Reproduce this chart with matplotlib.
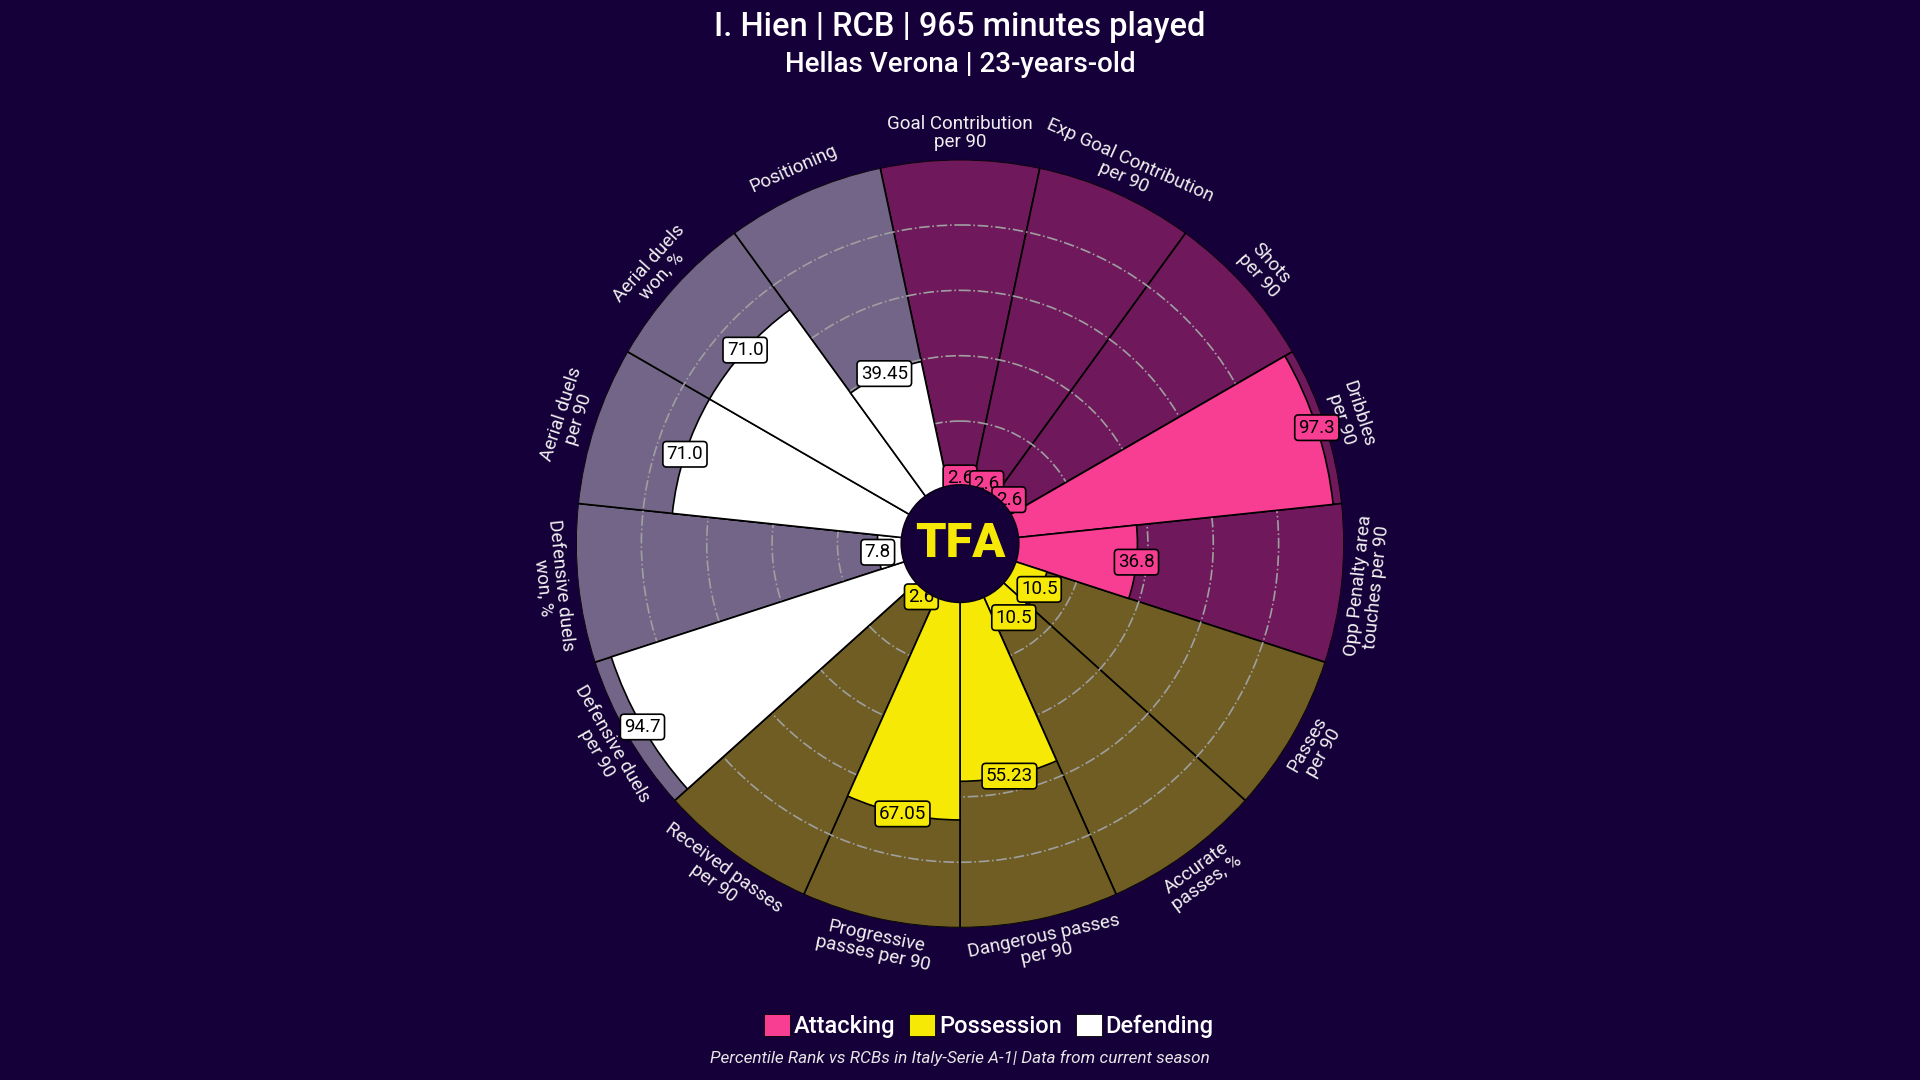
import matplotlib
matplotlib.use("Agg")
import matplotlib.pyplot as plt
import numpy as np
from matplotlib.patches import Patch, Circle
from matplotlib.colors import to_rgb

# ---------------- data ----------------
params = [
    "Goal Contribution\nper 90", "Exp Goal Contribution\nper 90", "Shots\nper 90",
    "Dribbles\nper 90", "Opp Penalty area\ntouches per 90",
    "Passes\nper 90", "Accurate\npasses, %", "Dangerous passes\nper 90",
    "Progressive\npasses per 90", "Received passes\nper 90",
    "Defensive duels\nper 90", "Defensive duels\nwon, %", "Aerial duels\nper 90",
    "Aerial duels\nwon, %", "Positioning",
]
values = [2.6, 2.6, 2.6, 97.3, 36.8,
          10.5, 10.5, 55.23, 67.05, 2.6,
          94.7, 7.8, 71.0, 71.0, 39.45]
groups = ["Attacking", "Attacking", "Attacking", "Attacking", "Attacking",
          "Possession", "Possession", "Possession", "Possession", "Possession",
          "Defending", "Defending", "Defending", "Defending", "Defending"]
group_names = ["Attacking", "Possession", "Defending"]

title = "I. Hien | RCB | 965 minutes played"
subtitle = "Hellas Verona | 23-years-old"
footer = "Percentile Rank vs RCBs in Italy-Serie A-1| Data from current season"

# ---------------- style ----------------
BG = "#160039"
group_colors = {"Attacking": "#F73E93", "Possession": "#F6E905", "Defending": "#FFFFFF"}
TEXT = "#F0F0F0"
FONT = ["Roboto", "DejaVu Sans"]
plt.rcParams["font.family"] = FONT

fig = plt.figure(figsize=(19.2, 10.8), dpi=100, facecolor=BG)
ax = fig.add_axes([0.3, 0.1411, 0.4, 0.7111], projection="polar")
ax.set_facecolor(BG)
ax.set_theta_zero_location("N")
ax.set_theta_direction(-1)
ax.set_ylim(0, 100)
ax.set_rorigin(-17.5)

n = len(params)
width = 2 * np.pi / n
theta = np.arange(n) * width
colors = [group_colors[g] for g in groups]

# background slices (blank area)
bg_face = [(*to_rgb(c), 0.4) for c in colors]
ax.bar(theta, [100] * n, width=width, bottom=0, color=bg_face,
       edgecolor="#000000", linewidth=1.2, zorder=1)

# value slices
ax.bar(theta, values, width=width, bottom=0, color=colors,
       edgecolor="#000000", linewidth=1.2, zorder=3)

# grid
ax.set_rticks([20, 40, 60, 80])
ax.set_xticks(theta)
ax.set_yticklabels([])
ax.set_xticklabels([])
ax.xaxis.grid(False)
ax.yaxis.grid(True, linestyle="-.", color="#9F9F9F", linewidth=1.2)
ax.yaxis.set_zorder(2)
ax.tick_params(length=0)
ax.spines["polar"].set_visible(False)

# value labels
for t, v, c in zip(theta, values, colors):
    ax.text(t, v, f"{v}", ha="center", va="center", fontsize=13.5, color="#000000",
            zorder=6, bbox=dict(boxstyle="round,pad=0.2", facecolor=c,
                                edgecolor="#000000", linewidth=1.2))

# parameter labels
for t, p in zip(theta, params):
    deg = np.degrees(t)
    rot = -deg
    if 90 < deg < 270:
        rot += 180
    ax.text(t, 108, p, rotation=rot, rotation_mode="anchor", ha="center",
            va="center", fontsize=13.5, color=TEXT, linespacing=1.0)

# center circle + logo
ax.add_patch(Circle((0.5, 0.5), 0.0765, transform=ax.transAxes, facecolor=BG,
                    edgecolor="#0a0018", linewidth=1.2, zorder=10, clip_on=False))
ax.text(0.5, 0.5, "TFA", transform=ax.transAxes, ha="center", va="center",
        fontsize=35, fontweight="heavy", color="#F6E905", zorder=11)

# titles
fig.text(0.5, 0.975, title, ha="center", va="center", fontsize=23.5,
         fontweight="medium", color="#FFFFFF")
fig.text(0.5, 0.9407, subtitle, ha="center", va="center", fontsize=20,
         fontweight="medium", color="#FFFFFF")
fig.text(0.5, 0.0204, footer, ha="center", va="center", fontsize=12.3,
         style="italic", color="#E6E6E6")

# legend
handles = [Patch(facecolor=group_colors[g], edgecolor="#000000", linewidth=0.6, label=g)
           for g in group_names]
leg = fig.legend(handles=handles, loc="center", bbox_to_anchor=(0.515, 0.05), ncol=3,
                 frameon=False, handlelength=1.1, handleheight=1.1,
                 handletextpad=0.15, columnspacing=0.6,
                 prop={"family": FONT, "size": 17, "weight": "medium"})
for txt in leg.get_texts():
    txt.set_color("#FFFFFF")

fig.savefig("out.png", dpi=100, facecolor=BG)
